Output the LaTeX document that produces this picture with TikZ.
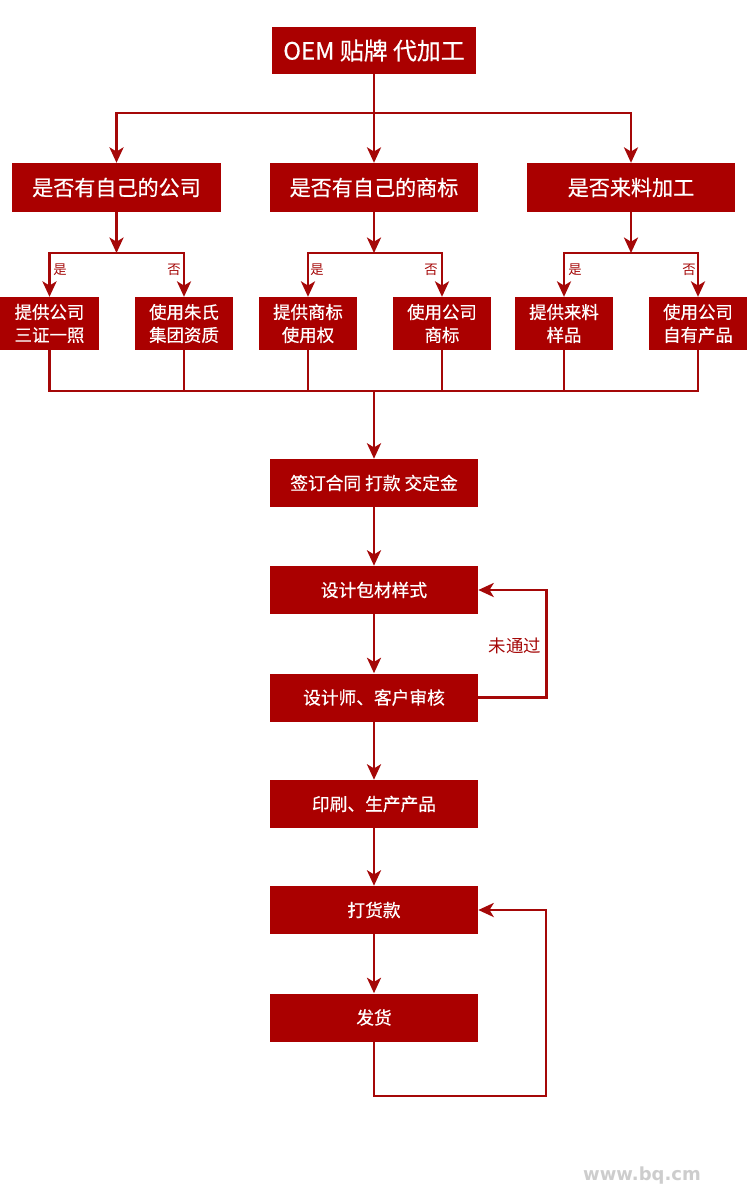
\documentclass[tikz,border=0pt]{standalone}
\usepackage{fontspec}
\setmainfont{Noto Sans CJK SC}
\newfontfamily\boxfont{Noto Sans CJK SC}[FakeBold=0.5]
\newfontfamily\markfont{DejaVu Sans}
\usetikzlibrary{arrows.meta}
\definecolor{oemred}{RGB}{170,0,0}
\definecolor{linered}{RGB}{165,8,8}
\definecolor{markgray}{RGB}{205,205,205}

\begin{document}
\begin{tikzpicture}[x=0.25mm,y=0.25mm]
    \tikzstyle{bigbox}=[rectangle,fill=oemred,text=white,minimum width=5.2cm,minimum height=1.22cm,font=\boxfont\fontsize{15}{18}\selectfont]
    \tikzstyle{smallbox}=[rectangle,fill=oemred,text=white,minimum width=2.45cm,minimum height=1.32cm,align=center,font=\boxfont\fontsize{12.4}{16.3}\selectfont]
    \tikzstyle{stepbox}=[rectangle,fill=oemred,text=white,minimum width=5.2cm,minimum height=1.2cm,font=\boxfont\fontsize{12.6}{15}\selectfont]
    \tikzstyle{wire}=[draw=linered,line width=1.9pt]
    \tikzstyle{flow}=[wire,-{Stealth[length=11pt,width=10pt,inset=3pt]}]
    \tikzstyle{yesno}=[text=linered,font=\fontsize{9.5}{11}\selectfont]

    \fill[white] (0,0) rectangle (748,-1200);
    \useasboundingbox (0,0) rectangle (748,-1200);

    % top and the three questions
    \node[bigbox,minimum width=5.1cm,minimum height=1.18cm,font=\boxfont\fontsize{17}{20}\selectfont] (oem) at (374,-50.5) {OEM 贴牌 代加工};
    \node[bigbox] (q1) at (116.5,-187.5) {是否有自己的公司};
    \node[bigbox] (q2) at (374,-187.5)   {是否有自己的商标};
    \node[bigbox] (q3) at (631,-187.5)   {是否来料加工};

    \coordinate (split) at (374,-113);
    \draw[wire] (oem.south) -- (split);
    \draw[flow] (split) -| (q1.north);
    \draw[flow] (split) -- (q2.north);
    \draw[flow] (split) -| (q3.north);

    % answers
    \node[smallbox] (a1) at (49.5,-323.5) {提供公司\\三证一照};
    \node[smallbox] (a2) at (184,-323.5)  {使用朱氏\\集团资质};
    \node[smallbox] (a3) at (308,-323.5)  {提供商标\\使用权};
    \node[smallbox] (a4) at (442,-323.5)  {使用公司\\商标};
    \node[smallbox] (a5) at (564,-323.5)  {提供来料\\样品};
    \node[smallbox] (a6) at (698,-323.5)  {使用公司\\自有产品};

    \coordinate (j1) at (116.5,-253);
    \coordinate (j2) at (374,-253);
    \coordinate (j3) at (631,-253);
    \draw[flow] (q1.south) -- (j1);
    \draw[flow] (q2.south) -- (j2);
    \draw[flow] (q3.south) -- (j3);
    \draw[flow] (j1) -| (a1.north);
    \draw[flow] (j1) -| (a2.north);
    \draw[flow] (j2) -| (a3.north);
    \draw[flow] (j2) -| (a4.north);
    \draw[flow] (j3) -| (a5.north);
    \draw[flow] (j3) -| (a6.north);

    \node[yesno] (y1) at (60,-270)  {是};
    \node[yesno] (n1) at (174,-270) {否};
    \node[yesno] (y2) at (317,-270) {是};
    \node[yesno] (n2) at (431,-270) {否};
    \node[yesno] (y3) at (575,-270) {是};
    \node[yesno] (n3) at (689,-270) {否};

    % merge into the steps
    \coordinate (merge) at (374,-391);
    \foreach \a in {a1,a2,a3,a4,a5,a6}
        \draw[wire] (\a.south) |- (merge);

    \node[stepbox] (sign)   at (374,-483)    {签订合同 打款 交定金};
    \node[stepbox] (design) at (374,-590)    {设计包材样式};
    \node[stepbox] (review) at (374,-697.5)  {设计师、客户审核};
    \node[stepbox] (print)  at (374,-804)    {印刷、生产产品};
    \node[stepbox] (pay)    at (374,-910)    {打货款};
    \node[stepbox] (ship)   at (374,-1017.5) {发货};

    \draw[flow] (merge) -- (sign.north);
    \draw[flow] (sign) -- (design);
    \draw[flow] (design) -- (review);
    \draw[flow] (review) -- (print);
    \draw[flow] (print) -- (pay);
    \draw[flow] (pay) -- (ship);

    % loops back
    \draw[flow] (review.east) -- ++(68,0) |- (design.east);
    \node[text=linered,font=\fontsize{12.4}{15}\selectfont] (fail) at (515,-646) {未通过};
    \coordinate (loop) at (546,-1096);
    \draw[flow] (ship.south) |- (loop) |- (pay.east);

    \node[text=markgray,font=\markfont\bfseries\fontsize{12.8}{15}\selectfont] (mark) at (642,-1176) {www.bq.cm};
\end{tikzpicture}
\end{document}
